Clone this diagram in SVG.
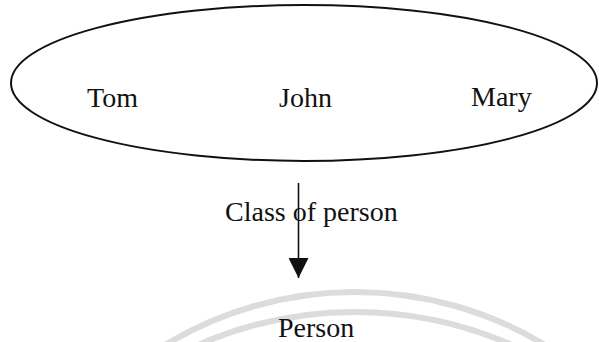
<svg xmlns="http://www.w3.org/2000/svg" width="599" height="342" viewBox="0 0 599 342">
  <style>
    .lbl { font-family: "Liberation Serif", "Times New Roman", serif; font-size: 28px; fill: #111; }
    .shape { fill: none; stroke: #111; stroke-width: 2; }
    .edge { stroke: #111; stroke-width: 1.6; fill: none; }
    .wm { fill: none; stroke: #dcdcdc; stroke-width: 6; }
  </style>
  <defs>
    <marker id="arrow" markerUnits="userSpaceOnUse" markerWidth="20" markerHeight="20" refX="20" refY="10" orient="auto">
      <path d="M0,0 L20,10 L0,20 Z" fill="#111"/>
    </marker>
  </defs>
  <rect width="599" height="342" fill="#fff"/>
  <g id="watermark">
    <path class="wm" d="M165,345 A367,367 0 0 1 545,345"/>
    <path class="wm" d="M198,345 A390,390 0 0 1 512,345"/>
  </g>
  <g id="instances">
    <ellipse class="shape" cx="304" cy="83" rx="293" ry="78"/>
    <text class="lbl" x="87" y="107">Tom</text>
    <text class="lbl" x="279" y="107">John</text>
    <text class="lbl" x="471" y="106">Mary</text>
  </g>
  <g id="person">
    <text class="lbl" x="278" y="337">Person</text>
  </g>
  <g id="connectors">
    <line class="edge" x1="298.5" y1="183" x2="298.5" y2="278" marker-end="url(#arrow)"/>
    <text class="lbl" x="225" y="221">Class of person</text>
  </g>
</svg>
